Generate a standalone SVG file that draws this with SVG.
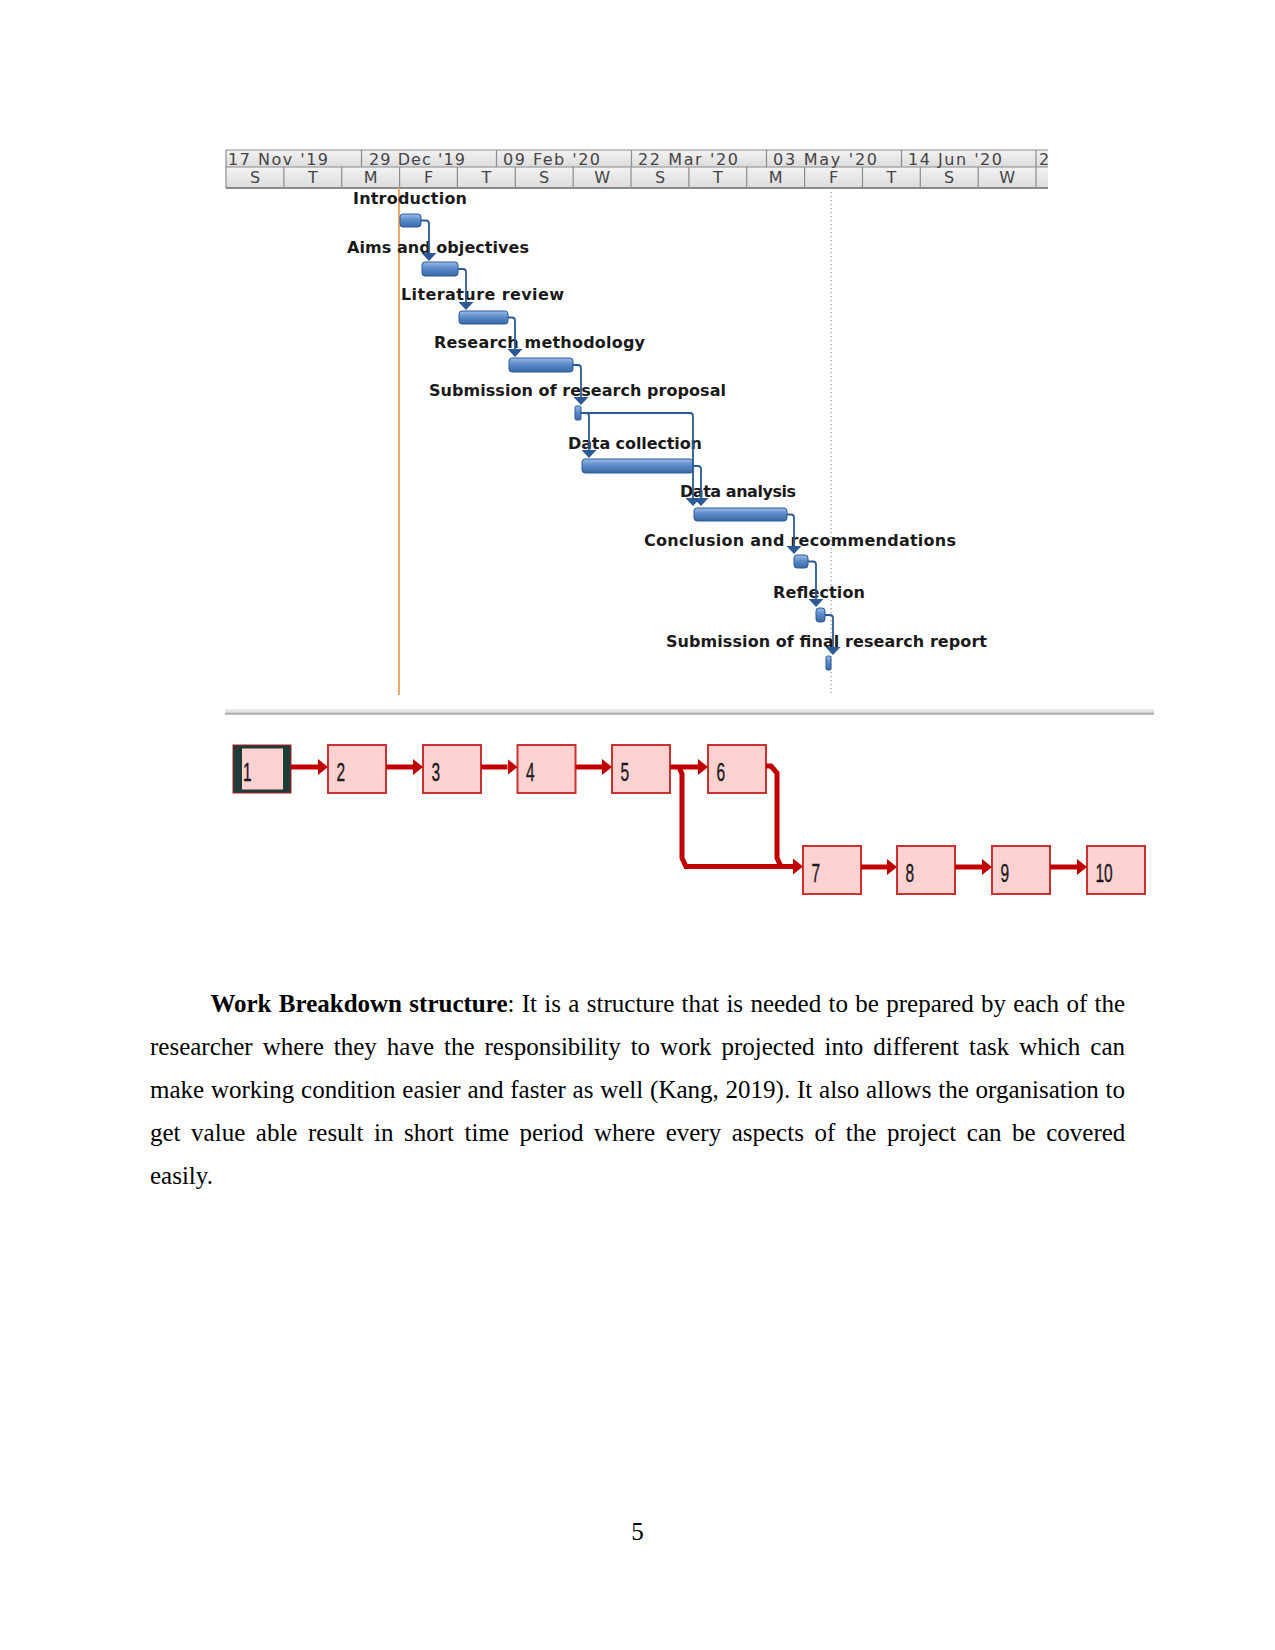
<svg xmlns="http://www.w3.org/2000/svg" width="1275" height="1650" viewBox="0 0 1275 1650">
<defs>
  <linearGradient id="hdr" x1="0" y1="0" x2="0" y2="1">
    <stop offset="0" stop-color="#f3f3f3"/>
    <stop offset="1" stop-color="#dcdcdc"/>
  </linearGradient>
  <linearGradient id="barg" x1="0" y1="0" x2="0" y2="1">
    <stop offset="0" stop-color="#9dbde6"/>
    <stop offset="0.45" stop-color="#5b8bc9"/>
    <stop offset="1" stop-color="#3b69a8"/>
  </linearGradient>
  <linearGradient id="sepg" x1="0" y1="0" x2="0" y2="1">
    <stop offset="0" stop-color="#eeeeee"/>
    <stop offset="0.5" stop-color="#dedede"/>
    <stop offset="0.8" stop-color="#a9a9a9"/>
    <stop offset="1" stop-color="#d4d4d4"/>
  </linearGradient>
  <marker id="ba" markerUnits="userSpaceOnUse" markerWidth="9" markerHeight="15" refX="0" refY="7.5" orient="auto">
    <path d="M0,0 L8,7.5 L0,15 z" fill="#2c5a97"/>
  </marker>
  <marker id="ra" markerUnits="userSpaceOnUse" markerWidth="11" markerHeight="18" refX="0" refY="9" orient="auto">
    <path d="M0,1 L10,9 L0,17 z" fill="#c00000"/>
  </marker>
  <style>
    .hl { font-family: "DejaVu Sans", "Liberation Sans", sans-serif; font-size: 16px; fill: #444444; }
    .hd { font-family: "DejaVu Sans", "Liberation Sans", sans-serif; font-size: 16px; fill: #444444; text-anchor: middle; }
    .grid { stroke: #8c8c8c; stroke-width: 1.2; }
    .tl { font-family: "DejaVu Sans", "Liberation Sans", sans-serif; font-size: 16px; font-weight: bold; fill: #1a1a1a; }
    .bar { fill: url(#barg); stroke: #2b5a96; stroke-width: 1; }
    .gc { fill: none; stroke: #2c5a97; stroke-width: 1.8; }
    .box { fill: #ffd2d2; stroke: #cc3030; stroke-width: 2; }
    .num { font-family: "Liberation Sans", "DejaVu Sans", sans-serif; font-size: 25px; fill: #1a1a1a; stroke: #1a1a1a; stroke-width: 0.4; }
    .rc { fill: none; stroke: #c00000; stroke-width: 5; }
    .body { font-family: "Liberation Serif", "Times New Roman", serif; font-size: 25px; fill: #000000; }
  </style>
</defs>
<rect x="0" y="0" width="1275" height="1650" fill="#ffffff"/>

<!-- Timescale header -->
<g id="timescale">
  <rect x="226" y="150" width="822" height="17" fill="url(#hdr)"/>
  <rect x="226" y="167" width="822" height="21" fill="url(#hdr)"/>
  <line class="grid" x1="226" y1="150" x2="1048" y2="150" stroke="#c4c4c4"/>
  <line class="grid" x1="226" y1="167" x2="1048" y2="167"/>
  <line x1="226" y1="188" x2="1048" y2="188" stroke="#8a8a8a" stroke-width="2"/>
  <line class="grid" x1="226" y1="150" x2="226" y2="188"/>
  <g class="grid">
    <line x1="361.5" y1="150" x2="361.5" y2="167"/>
    <line x1="496.5" y1="150" x2="496.5" y2="167"/>
    <line x1="631.5" y1="150" x2="631.5" y2="167"/>
    <line x1="766.5" y1="150" x2="766.5" y2="167"/>
    <line x1="901.5" y1="150" x2="901.5" y2="167"/>
    <line x1="1036" y1="150" x2="1036" y2="167"/>
    <line x1="283.9" y1="167" x2="283.9" y2="188"/>
    <line x1="341.7" y1="167" x2="341.7" y2="188"/>
    <line x1="399.6" y1="167" x2="399.6" y2="188"/>
    <line x1="457.4" y1="167" x2="457.4" y2="188"/>
    <line x1="515.3" y1="167" x2="515.3" y2="188"/>
    <line x1="573.2" y1="167" x2="573.2" y2="188"/>
    <line x1="631" y1="167" x2="631" y2="188"/>
    <line x1="688.9" y1="167" x2="688.9" y2="188"/>
    <line x1="746.7" y1="167" x2="746.7" y2="188"/>
    <line x1="804.6" y1="167" x2="804.6" y2="188"/>
    <line x1="862.5" y1="167" x2="862.5" y2="188"/>
    <line x1="920.3" y1="167" x2="920.3" y2="188"/>
    <line x1="978.2" y1="167" x2="978.2" y2="188"/>
    <line x1="1036" y1="167" x2="1036" y2="188"/>
  </g>
  <text class="hl" x="228" y="164.5" textLength="100">17 Nov '19</text>
  <text class="hl" x="369" y="164.5" textLength="96">29 Dec '19</text>
  <text class="hl" x="503" y="164.5" textLength="97">09 Feb '20</text>
  <text class="hl" x="638" y="164.5" textLength="100">22 Mar '20</text>
  <text class="hl" x="773" y="164.5" textLength="104">03 May '20</text>
  <text class="hl" x="908" y="164.5" textLength="94">14 Jun '20</text>
  <text class="hl" x="1039" y="164.5">2</text>
  <text class="hd" x="255" y="183">S</text>
  <text class="hd" x="312.8" y="183">T</text>
  <text class="hd" x="370.7" y="183">M</text>
  <text class="hd" x="428.5" y="183">F</text>
  <text class="hd" x="486.4" y="183">T</text>
  <text class="hd" x="544.2" y="183">S</text>
  <text class="hd" x="602.1" y="183">W</text>
  <text class="hd" x="660" y="183">S</text>
  <text class="hd" x="717.8" y="183">T</text>
  <text class="hd" x="775.7" y="183">M</text>
  <text class="hd" x="833.5" y="183">F</text>
  <text class="hd" x="891.4" y="183">T</text>
  <text class="hd" x="949.2" y="183">S</text>
  <text class="hd" x="1007.1" y="183">W</text>
</g>

<g id="markers-lines">
  <line x1="399" y1="188" x2="399" y2="695" stroke="#f0a868" stroke-width="2"/>
  <line x1="831" y1="188" x2="831" y2="693" stroke="#9a9a9a" stroke-width="1.3" stroke-dasharray="1.3,2.7"/>
</g>

<!-- Gantt tasks -->
<g id="task-introduction">
  <text class="tl" x="353" y="204" textLength="114">Introduction</text>
  <rect class="bar" x="400" y="214" width="21" height="13" rx="3"/>
</g>
<g id="task-aims">
  <text class="tl" x="347" y="253" textLength="182">Aims and objectives</text>
  <rect class="bar" x="422" y="262" width="36" height="14" rx="3"/>
</g>
<g id="task-literature">
  <text class="tl" x="401" y="300" textLength="163">Literature review</text>
  <rect class="bar" x="459" y="311" width="49" height="13" rx="3"/>
</g>
<g id="task-methodology">
  <text class="tl" x="434" y="348" textLength="211">Research methodology</text>
  <rect class="bar" x="509" y="358" width="64" height="14" rx="3"/>
</g>
<g id="task-proposal">
  <text class="tl" x="429" y="396" textLength="297">Submission of research proposal</text>
  <rect class="bar" x="575" y="406" width="6" height="14" rx="1.5"/>
</g>
<g id="task-collection">
  <text class="tl" x="568" y="449" textLength="134">Data collection</text>
  <rect class="bar" x="582" y="459" width="111" height="14" rx="3"/>
</g>
<g id="task-analysis">
  <text class="tl" x="680" y="497" textLength="116">Data analysis</text>
  <rect class="bar" x="694" y="508" width="93" height="13" rx="3"/>
</g>
<g id="task-conclusion">
  <text class="tl" x="644" y="546" textLength="312">Conclusion and recommendations</text>
  <rect class="bar" x="794" y="555" width="14" height="13" rx="3"/>
</g>
<g id="task-reflection">
  <text class="tl" x="773" y="598" textLength="92">Reflection</text>
  <rect class="bar" x="816" y="608" width="9" height="14" rx="3"/>
</g>
<g id="task-final">
  <text class="tl" x="666" y="647" textLength="321">Submission of final research report</text>
  <rect class="bar" x="826" y="656" width="5" height="14" rx="1.5"/>
</g>

<g id="gantt-connectors">
  <path class="gc" d="M421,220.5 H426 Q429,220.5 429,223.5 V253" marker-end="url(#ba)"/>
  <path class="gc" d="M458,269 H463 Q466,269 466,272 V302" marker-end="url(#ba)"/>
  <path class="gc" d="M508,317.5 H512 Q515,317.5 515,320.5 V349" marker-end="url(#ba)"/>
  <path class="gc" d="M573,365 H578 Q581,365 581,368 V397" marker-end="url(#ba)"/>
  <path class="gc" d="M581,413 H586 Q589,413 589,416 V450" marker-end="url(#ba)"/>
  <path class="gc" d="M581,413 H690 Q693,413 693,416 V498" marker-end="url(#ba)"/>
  <path class="gc" d="M693,466 H698 Q701,466 701,469 V498" marker-end="url(#ba)"/>
  <path class="gc" d="M787,514.5 H791 Q794,514.5 794,517.5 V546" marker-end="url(#ba)"/>
  <path class="gc" d="M808,561.5 H813 Q816,561.5 816,564.5 V599" marker-end="url(#ba)"/>
  <path class="gc" d="M825,615 H830 Q833,615 833,618 V647" marker-end="url(#ba)"/>
</g>

<rect id="separator" x="225" y="709" width="929" height="6" fill="url(#sepg)"/>

<!-- Network diagram -->
<g id="net-1">
  <rect x="233" y="745" width="58" height="48" fill="#1f3b37" stroke="#b02020" stroke-width="1"/>
  <rect x="242" y="748.5" width="41" height="41" fill="#ffd2d2"/>
  <text class="num" transform="translate(243,781) scale(0.62,1)">1</text>
</g>
<g id="net-2">
  <rect class="box" x="328" y="745" width="58" height="48"/>
  <text class="num" transform="translate(336.5,781) scale(0.62,1)">2</text>
</g>
<g id="net-3">
  <rect class="box" x="423" y="745" width="58" height="48"/>
  <text class="num" transform="translate(431.5,781) scale(0.62,1)">3</text>
</g>
<g id="net-4">
  <rect class="box" x="517.5" y="745" width="58" height="48"/>
  <text class="num" transform="translate(526,781) scale(0.62,1)">4</text>
</g>
<g id="net-5">
  <rect class="box" x="612" y="745" width="58" height="48"/>
  <text class="num" transform="translate(620.5,781) scale(0.62,1)">5</text>
</g>
<g id="net-6">
  <rect class="box" x="708" y="745" width="58" height="48"/>
  <text class="num" transform="translate(716.5,781) scale(0.62,1)">6</text>
</g>
<g id="net-7">
  <rect class="box" x="803" y="846" width="58" height="48"/>
  <text class="num" transform="translate(811.5,882) scale(0.62,1)">7</text>
</g>
<g id="net-8">
  <rect class="box" x="897" y="846" width="58" height="48"/>
  <text class="num" transform="translate(905.5,882) scale(0.62,1)">8</text>
</g>
<g id="net-9">
  <rect class="box" x="992" y="846" width="58" height="48"/>
  <text class="num" transform="translate(1000.5,882) scale(0.62,1)">9</text>
</g>
<g id="net-10">
  <rect class="box" x="1087" y="846" width="58" height="48"/>
  <text class="num" transform="translate(1095.5,882) scale(0.62,1)">10</text>
</g>

<g id="net-connectors">
  <line class="rc" x1="291" y1="767" x2="318" y2="767" marker-end="url(#ra)"/>
  <line class="rc" x1="386" y1="767" x2="413" y2="767" marker-end="url(#ra)"/>
  <line class="rc" x1="481" y1="767" x2="507.5" y2="767" marker-end="url(#ra)"/>
  <line class="rc" x1="575.5" y1="767" x2="602" y2="767" marker-end="url(#ra)"/>
  <line class="rc" x1="670" y1="767" x2="698" y2="767" marker-end="url(#ra)"/>
  <path class="rc" stroke-width="4" d="M679,767 L682,774 V858 L686,866.5 H793" marker-end="url(#ra)"/>
  <path class="rc" stroke-width="4" d="M766,766 H771 L777,773 V858 L781,866.5"/>
  <line class="rc" x1="861" y1="867" x2="887" y2="867" marker-end="url(#ra)"/>
  <line class="rc" x1="955" y1="867" x2="982" y2="867" marker-end="url(#ra)"/>
  <line class="rc" x1="1050" y1="867" x2="1077" y2="867" marker-end="url(#ra)"/>
</g>

<!-- Body text -->
<g id="paragraph">
  <text class="body" x="210.4" y="1012" word-spacing="1.08"><tspan font-weight="bold">Work Breakdown structure</tspan>: It is a structure that is needed to be prepared by each of the</text>
  <text class="body" x="150" y="1055" word-spacing="3.75">researcher where they have the responsibility to work projected into different task which can</text>
  <text class="body" x="150" y="1098" word-spacing="0.55">make working condition easier and faster as well (Kang, 2019). It also allows the organisation to</text>
  <text class="body" x="150" y="1141" word-spacing="4.3">get value able result in short time period where every aspects of the project can be covered</text>
  <text class="body" x="150" y="1184">easily.</text>
</g>
<text id="page-number" class="body" x="637.5" y="1540" text-anchor="middle">5</text>
</svg>
